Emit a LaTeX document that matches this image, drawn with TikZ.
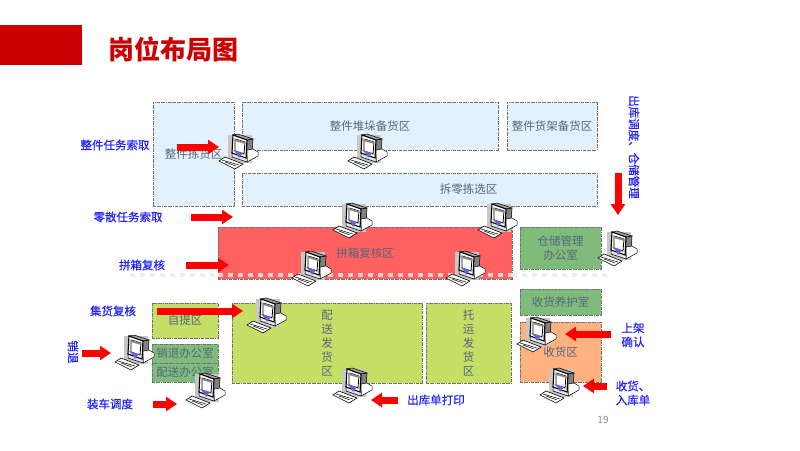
\documentclass[tikz,border=0pt]{standalone}
\usepackage{fontspec}
\setmainfont{Noto Sans CJK SC}
\newfontfamily\tagfont[FakeBold=0.5]{Noto Sans CJK SC}
\usetikzlibrary{arrows.meta}
\definecolor{zoneblue}{HTML}{E3F1FD}
\definecolor{zonered}{HTML}{FF6060}
\definecolor{zonegreen}{HTML}{7FBC7C}
\definecolor{zonelime}{HTML}{C4DE66}
\definecolor{zoneorange}{HTML}{FFB27F}
\definecolor{zonetext}{HTML}{56657C}
\definecolor{titlered}{HTML}{CC0000}
\definecolor{labelblue}{HTML}{2222FF}
\tikzset{
  zone/.style={draw=black!55, densely dashdotted, line width=0.9pt, anchor=north west, inner sep=0pt,
    outer sep=0pt, text=zonetext, font=\fontsize{11.5pt}{14pt}\selectfont, align=center},
  tag/.style={text=labelblue, font=\fontsize{11.5pt}{14pt}\tagfont, align=center, inner sep=0pt},
  redarrow/.style={red, line width=7pt, -{Triangle[length=11pt,width=14pt]}},
  pcunit/.pic={
    % backdrop, case, screen
    \fill[black!22] (-10,-16) rectangle (14,12);
    \draw[black, line width=0.5pt, fill=black!35] (-5,-16) -- (0,-17) -- (15,-12) -- (9,-11) -- cycle;
    \draw[black, line width=0.5pt, fill=black!50] (9,-11) -- (15,-12) -- (14,5) -- (8,7) -- cycle;
    \draw[black, line width=0.5pt, fill=white] (9,-1) -- (15,-2) -- (20,1) -- (20,5) -- (9,11) -- cycle;
    \draw[black, line width=0.5pt, fill=black!10] (-6,1) -- (9,6) -- (9,11) -- (-6,6) -- cycle;
    \draw[black, line width=1.1pt, fill=white] (-5,-16) -- (9,-11) -- (8,7) -- (-6,2) -- cycle;
    \draw[black, line width=0.8pt, fill=white] (-3,-12) -- (7,-9) -- (6,3) -- (-3,0) -- cycle;
    \fill[black!45] (-3,-12) -- (7,-9) -- (7,-7) -- (-3,-10) -- cycle;
    \fill[black!30!blue!60!white] (-5,-1) -- (5,2) -- (1,7) -- (-1,3) -- cycle;
    % keyboard
    \draw[black, line width=0.6pt, fill=white] (-19,10) -- (-13,6) -- (5,13) -- (-3,18) -- cycle;
    \draw[black, line width=0.5pt] (-16,9) -- (1,14) (-13,11) -- (-2,15);
  }
}
\begin{document}
\begin{tikzpicture}[x=1pt, y=-1pt]
  \useasboundingbox (0,0) rectangle (800,450);

  % Header
  \fill[titlered] (0,25) rectangle (82,65);
  \node[text=titlered, font=\fontsize{26pt}{28pt}\selectfont\bfseries, inner sep=0pt] (title) at (173,49) {岗位布局图};

  % Zones
  \node[zone, fill=zoneblue, minimum width=81pt, minimum height=104pt] (pickzone) at (153,102) {整件拣货区};
  \node[zone, fill=zoneblue, minimum width=256pt, minimum height=48pt] (stackzone) at (242,102) {整件堆垛备货区};
  \node[zone, fill=zoneblue, minimum width=90pt, minimum height=48pt] (rackzone) at (507,102) {整件货架备货区};
  \node[zone, fill=zoneblue, minimum width=355pt, minimum height=33pt] (splitzone) at (242,173) {\hspace*{98pt}拆零拣选区};
  \node[zone, fill=zonered, minimum width=294pt, minimum height=52pt] (checkzone) at (218,227) {拼箱复核区};
  \node[zone, fill=zonegreen, minimum width=81pt, minimum height=42pt] (officezone) at (520,227) {仓储管理\\办公室};
  \node[zone, fill=zonegreen, minimum width=81pt, minimum height=26pt] (carezone) at (520,289) {收货养护室};
  \node[zone, fill=zoneorange, minimum width=81pt, minimum height=60pt] (receivezone) at (520,322) {收货区};
  \node[zone, fill=zonelime, minimum width=66pt, minimum height=35pt] (selfzone) at (152,303) {自提区};
  \node[zone, fill=zonegreen, minimum width=66pt, minimum height=19pt] (returnzone) at (152,344) {销退办公室};
  \node[zone, fill=zonegreen, minimum width=66pt, minimum height=19pt] (dispatchzone) at (152,363) {配送办公室};
  \node[zone, fill=zonelime, minimum width=190pt, minimum height=80pt] (deliverzone) at (232,303) {配\\送\\发\\货\\区};
  \node[zone, fill=zonelime, minimum width=85pt, minimum height=80pt] (freightzone) at (426,303) {托\\运\\发\\货\\区};

  % Pale strip across the floor
  \draw[white, opacity=0.7, line width=4pt, dash pattern=on 5pt off 5pt] (218,275) -- (512,275);
  \draw[black!7, line width=4pt, dash pattern=on 5pt off 5pt] (130,275) -- (218,275);
  \draw[black!7, line width=4pt, dash pattern=on 5pt off 5pt] (512,275) -- (610,275);

  % Computers
  \foreach \x/\y in {238/151, 367/151, 352/220, 497/220, 311/268, 465/268, 617/248,
                     266/315, 134/352, 205/390, 352/385, 536/334, 559/385}
    \pic at (\x,\y) {pcunit};

  % Labels
  \node[tag] (picktag) at (115,145) {整件任务索取};
  \node[tag] (sparetag) at (128,217) {零散任务索取};
  \node[tag] (boxtag) at (142,265) {拼箱复核};
  \node[tag] (gathertag) at (113,311) {集货复核};
  \node[tag, rotate=-90] (returntag) at (73,352) {销退};
  \node[tag] (loadtag) at (110,404) {装车调度};
  \node[tag] (printtag) at (436,400) {出库单打印};
  \node[tag, align=left] (intag) at (633,393) {收货、\\入库单};
  \node[tag] (shelftag) at (633,335) {上架\\确认};
  \node[tag, rotate=-90] (plantag) at (634,147) {出库调度、仓储管理};
  \node[text=black!45, font=\fontsize{10pt}{12pt}\selectfont, inner sep=0pt] (pageno) at (603,420) {19};

  % Arrows
  \coordinate (pickA) at (177,147);    \coordinate (pickB) at (219,147);
  \coordinate (spareA) at (191,217);   \coordinate (spareB) at (233,217);
  \coordinate (boxA) at (186,265);     \coordinate (boxB) at (229,265);
  \coordinate (gatherA) at (157,311);  \coordinate (gatherB) at (243,311);
  \coordinate (returnA) at (82,353);   \coordinate (returnB) at (111,353);
  \coordinate (loadA) at (153,404);    \coordinate (loadB) at (177,404);
  \coordinate (printA) at (398,400);   \coordinate (printB) at (371,400);
  \coordinate (inA) at (607,386);      \coordinate (inB) at (583,386);
  \coordinate (shelfA) at (611,334);   \coordinate (shelfB) at (565,334);
  \coordinate (planA) at (618,173);    \coordinate (planB) at (618,215);
  \foreach \n in {pick, spare, box, gather, return, load, print, in, shelf, plan}
    \draw[redarrow] (\n A) -- (\n B);
\end{tikzpicture}
\end{document}
